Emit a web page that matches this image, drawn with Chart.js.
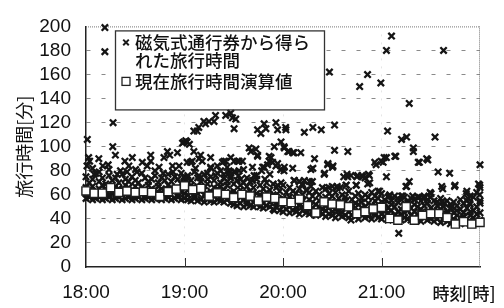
<!DOCTYPE html>
<html><head><meta charset="utf-8">
<script src="https://cdn.jsdelivr.net/npm/chart.js@4/dist/chart.umd.min.js"></script>
<style>html,body{margin:0;padding:0;background:#fff}#wrap{width:504px;height:308px;position:relative}</style>
</head><body><div id="wrap"><canvas id="c" width="504" height="308"></canvas></div>
<script>
// ---- text ----
const hourTickLabels = ['18:00', '19:00', '20:00', '21:00', ''];
const hourTickMinutes = [0, 60, 120, 180, 240];
const xAxisUnitLabel = '時刻[時]';
const yAxisTitle = '旅行時間[分]';
const legendTicketLines = ['磁気式通行券から得ら', 'れた旅行時間'];
const legendCalcLine = '現在旅行時間演算値';

// ---- 現在旅行時間演算値 (squares), minutes after 18:00 ----
const calcMinutes = [0,5,10,15,20,25,30,35,40,45,50,55,60,65,70,75,80,85,90,95,100,105,110,115,120,125,130,135,140,145,150,155,160,165,170,175,180,185,190,195,200,205,210,215,220,225,230,235,240];
const calcValues = [63.2,61.3,61.3,66,62,63,62,62.7,62,58.7,62.7,64.8,67.5,64.3,65.3,58.9,61.6,60.3,57.6,60.3,58.9,54.9,58.1,57.1,54.4,53.6,56.3,51,45,54.1,52.3,51.7,50.1,44.3,46.1,48.3,49.6,40.3,38.9,50.1,38.9,42.9,44.3,44.3,41.1,35.7,37.6,35.7,37.1];

// ---- 磁気式通行券 travel times (crosses): scattered points [minute, value] ----
const ticketSparse = [
[0.8,106],[11.5,199],[11.5,179],[16.5,120],[16.3,100],[17.9,93],[1.6,91],[7.8,90],[0.6,84],[2.2,88],[10.2,84],[13.5,85],[23.7,88],[28.2,91],[26.1,84],[34.3,87],[39.4,93],[39.4,88],[37.3,84],[30.2,81],[47.5,91],[49.6,96],[51,93],[55.7,95],[44.5,83],[52.7,84],[56.7,84],[21,80],[19,77],[8,79],[5,77],[31,79],[42,80],[47,78],[53,79],[4,82],[14,81],[25,79],
[58.8,103],[59.6,104],[60.8,105],[61.6,104],[63,102],[65.7,113],[67.8,113],[68.7,116],[71.8,121],[72.8,119],[74.9,121],[78,121],[78.9,126],[85.1,126],[88.2,128],[89.2,124],[91.2,123],[90.2,115],[65.7,96],[69.8,93],[63.7,87],[70.8,88],[75.9,83],[80,84],[83.1,87],[85.1,88],[88.2,91],[90.2,88],[93.2,88],[95.3,88],[87.1,80],[90.2,79],[93.2,80],[94.3,73],[99.4,99],[100.4,96],[103.5,98],[104.5,93],[101.4,83],[107.6,83],[110.6,85],[111.6,88],[113.7,87],[115.7,84],[118.8,81],[112.7,91],[104.5,114],[106.5,111],[108.5,119],[109.6,115],[114.7,100],[115.7,120],[116.7,114],[118.8,104],[120.8,99],[61.6,87],[64.7,88],[68.8,90],[75.9,91],[84.1,88],[92.3,88],[104.5,92],[111.6,92],[108.5,83],[116.7,86],[102.4,76],[101.4,72],[88.2,74],[87.1,78],[68.8,76],[69.8,74],[66.7,82],[59.6,75],[61.6,74],[74,78],[76,82],[79,76],[82,80],[84,77],[86,83],[91,79],[93,76],[96,81],[98,74],[104,76],[107,80],[109,73],[112,77],[114.7,47],
[121.8,114],[121.6,116],[122.9,96],[126,95],[133,112],[138.2,116],[143.3,114],[151.4,118],[148.3,162],[166.7,150],[171.5,160],[179.6,153],[120.6,100],[123.7,96],[126.7,95],[130.8,95],[139.2,90],[137,81],[147.2,85],[150.2,83],[145.1,77],[151.4,97],[159.5,96],[126.7,72],[129.8,71],[131.8,69],[137.9,71],[137,67],[118.6,81],[120.6,80],[159.4,75],[161.4,76],[158.4,68],[164.5,68],[165.5,76],[168.6,75],[172.6,76],[171.6,69],[176.7,85],[179.8,88],[178.8,63],[146.1,65],[148,66],[153,66],[155,66],[161.4,39],[120.8,83],[125.9,82],[138.2,82],[147.4,86],[150.4,84],[145.3,78],[126.9,72],[130,71],[132.1,68],[133,72],[136.1,71],[118.8,70],[116.7,68],[157,75],[159,77],[165,75],[168,76],[170,74],[172,77],[158.6,68],[164.7,68],[172.8,70],[177.9,63],[150,67],[153,67],[175.9,87],
[186.1,192],[183,180],[217.8,180],[196.9,136],[183.7,113],[192.2,106],[195.3,108],[199.4,99],[199.4,96],[212.6,108],[203.1,87],[208.2,89],[188.7,92],[181.6,91],[181,87],[183,91],[188.1,92],[202.4,87],[207.5,90],[183,75],[194.9,67],[196.9,71],[214.5,79],[221.5,78],[217.3,65],[224.5,67],[216.7,67],[231.6,61],[232.7,57],[233.7,53],[232,63],[234,59],[240,85],[239.8,68],[239.1,69],[239.8,60],[240,53],[184.7,59],[185,60],[192.9,59],[192.2,59],[199,59],[203,58],[206,59],[210.2,61],[209.6,62],[216.7,54],[222.8,50],[190.5,28],[195.3,67],[224.8,68]
];

// ---- dense band of crosses: [minute, v1, v2, v3, v4] ----
const ticketBand = [
[0,57,61,66,75],[2,58,60,64,70],[4,56,62,67,73],[6,57,59,63,78],[8,58,61,65,71],[10,56,60,68,74],[12,57,62,64,69],[14,58,60,66,76],[16,56,61,63,72],[18,57,59,67,74],
[20,58,62,65,70],[22,56,60,64,77],[24,57,61,68,73],[26,58,63,66,71],[28,56,59,62,75],[30,57,60,67,72],[32,58,62,64,70],[34,56,61,66,78],[36,57,60,63,74],[38,58,62,68,71],
[40,56,59,65,73],[42,57,61,64,76],[44,58,60,67,70],[46,56,62,65,74],[48,57,59,63,72],[50,58,61,68,77],[52,56,60,66,71],[54,57,63,65,75],[56,58,60,64,73],[58,56,62,69,78],
[60,57,61,66,74],[62,56,60,64,76],[64,55,62,68,72],[66,57,59,65,79],[68,55,61,67,74],[70,56,63,66,71],[72,54,60,64,77],[74,56,58,69,73],[76,55,61,63,75],[78,54,59,66,72],
[80,56,62,65,78],[82,55,58,67,70],[84,54,60,64,74],[86,56,61,68,71],[88,53,59,62,76],[90,52,57,63,69],[92,51,55,61,72],[94,53,58,64,68],[96,50,56,60,70],[98,52,55,62,67],
[100,51,57,63,71],[102,50,54,59,66],[104,52,56,61,73],[106,50,55,60,68],[108,49,53,58,65],[110,51,56,62,70],[112,50,54,57,64],[114,48,55,60,69],[116,50,53,58,66],[118,47,52,56,63],
[120,46,51,57,68],[122,48,53,55,62],[124,45,50,58,66],[126,47,52,56,63],[128,46,49,54,61],[130,44,51,57,65],[132,47,50,55,60],[134,45,48,53,64],[136,44,50,56,62],[138,46,49,54,59],
[140,43,47,52,63],[142,45,50,55,60],[144,44,48,53,66],[146,42,47,51,58],[148,44,49,56,61],[150,43,46,52,59],[152,41,48,54,62],[154,44,47,50,57],[156,42,45,53,60],[158,43,49,55,58],
[160,41,46,51,63],[162,43,48,50,56],[164,42,45,53,59],[166,40,47,52,61],[168,43,49,54,57],[170,41,46,50,60],[172,42,44,53,58],[174,40,48,51,62],[176,43,45,55,59],[178,41,47,52,57],
[180,40,44,50,61],[182,42,46,53,56],[184,39,45,49,58],[186,41,47,52,55],[188,40,43,50,59],[190,42,46,54,57],[192,39,44,48,56],[194,41,45,51,58],[196,40,47,53,55],[198,39,43,49,57],
[200,41,46,52,56],[202,40,44,50,58],[204,38,45,48,55],[206,41,43,51,57],[208,39,46,53,56],[210,40,44,49,58],[212,38,42,47,55],[214,40,45,51,54],[216,37,43,48,57],[218,39,41,50,53],
[220,38,44,46,55],[222,36,42,49,52],[224,38,40,45,54],[226,37,43,47,51],[228,36,41,48,56],[230,38,42,45,53],[232,37,40,49,55],[234,36,43,46,52],[236,38,41,47,58],[238,37,44,50,62],
[240,39,45,55,66]
];

// ---- build datasets from the arrays ----
const calcData = calcMinutes.map((m, i) => ({x: m, y: calcValues[i]}));
const crossData = ticketSparse.map(([m, v]) => ({x: m, y: v}));
ticketBand.forEach(row => { for (let k = 1; k < row.length; k++) crossData.push({x: row[0], y: row[k]}); });

const JP = '"Noto Sans CJK JP", "Noto Sans", sans-serif';
const NUM = '"Liberation Sans", Arial, sans-serif';
const INK = '#111';

const framePlugin = {
  id: 'frame',
  beforeDatasetsDraw(chart) {
    const {ctx, chartArea: a, scales: {x}} = chart;
    ctx.save();
    ctx.strokeStyle = '#777'; ctx.lineWidth = 1; ctx.setLineDash([1, 1]);
    ctx.beginPath();
    ctx.moveTo(a.left, a.top + 0.5); ctx.lineTo(a.right, a.top + 0.5);
    ctx.moveTo(a.right - 0.5, a.top); ctx.lineTo(a.right - 0.5, a.bottom);
    ctx.stroke();
    ctx.setLineDash([]); ctx.strokeStyle = '#333'; ctx.lineWidth = 1;
    hourTickMinutes.slice(1, 4).forEach(m => {
      const px = Math.round(x.getPixelForValue(m)) + 0.5;
      ctx.beginPath(); ctx.moveTo(px, a.bottom); ctx.lineTo(px, a.bottom - 9); ctx.stroke();
    });
    ctx.restore();
  },
  afterDatasetsDraw(chart) {
    const {ctx, chartArea: a} = chart;
    const bx = a.left + 29, by = a.top + 4, bw = 209, bh = 79;
    ctx.save();
    ctx.fillStyle = '#fff'; ctx.fillRect(bx, by, bw, bh);
    ctx.strokeStyle = '#333'; ctx.lineWidth = 1.3; ctx.strokeRect(bx + 0.5, by + 0.5, bw, bh);
    ctx.strokeStyle = '#1a1a1a'; ctx.lineWidth = 2;
    const cx = bx + 11, cy = by + 12, r = 2.8;
    ctx.beginPath(); ctx.moveTo(cx - r, cy - r); ctx.lineTo(cx + r, cy + r); ctx.moveTo(cx - r, cy + r); ctx.lineTo(cx + r, cy - r); ctx.stroke();
    ctx.lineWidth = 1.3; ctx.fillStyle = '#fff'; ctx.strokeStyle = '#222';
    ctx.fillRect(bx + 7, by + 47, 8, 8); ctx.strokeRect(bx + 7, by + 47, 8, 8);
    ctx.fillStyle = INK; ctx.font = '500 17.5px ' + JP; ctx.textBaseline = 'middle'; ctx.textAlign = 'left';
    ctx.fillText(legendTicketLines[0], bx + 20, by + 12);
    ctx.fillText(legendTicketLines[1], bx + 20, by + 30);
    ctx.fillText(legendCalcLine, bx + 20, by + 51);
    ctx.restore();
  },
  afterDraw(chart) {
    const {ctx} = chart;
    ctx.save();
    ctx.fillStyle = INK; ctx.font = '500 17px ' + JP; ctx.textAlign = 'center'; ctx.textBaseline = 'middle';
    ctx.fillText(xAxisUnitLabel, 464, 294);
    ctx.restore();
  }
};

new Chart(document.getElementById('c'), {
  type: 'scatter',
  data: {
    datasets: [
      {label: legendCalcLine, data: calcData, pointStyle: 'rect', pointRadius: 5.8, pointBackgroundColor: '#fff', pointBorderColor: '#1e1e1e', pointBorderWidth: 1.4, order: 0, clip: false},
      {label: legendTicketLines.join(''), data: crossData, pointStyle: 'crossRot', pointRadius: 4.5, pointBorderColor: '#151515', pointBorderWidth: 2.3, order: 1, clip: false}
    ]
  },
  options: {
    responsive: false, animation: false, devicePixelRatio: 1,
    layout: {padding: {top: 7, right: 24, left: 0, bottom: 0}},
    plugins: {legend: {display: false}, tooltip: {enabled: false}},
    scales: {
      x: {
        type: 'linear', min: 0, max: 240,
        afterFit(s) { s.height = 41; },
        afterBuildTicks(s) { s.ticks = hourTickMinutes.map(v => ({value: v})); },
        ticks: {callback: (v) => hourTickLabels[hourTickMinutes.indexOf(v)], font: {family: NUM, size: 19}, color: INK, padding: 14, maxRotation: 0, autoSkip: false},
        grid: {drawTicks: false, color: (c) => (c.tick && (c.tick.value === 0 || c.tick.value === 240)) ? 'rgba(0,0,0,0)' : 'rgba(0,0,0,0.1)'},
        border: {color: '#222', width: 1.5, dash: [2, 6]}
      },
      y: {
        min: 0, max: 200,
        afterFit(s) { s.width = 86; },
        ticks: {stepSize: 20, autoSkip: false, font: {family: NUM, size: 19}, color: INK, padding: 15},
        grid: {drawTicks: false, color: (c) => (c.tick && (c.tick.value === 0 || c.tick.value === 200)) ? 'rgba(0,0,0,0)' : '#8a8a8a'},
        border: {color: '#222', width: 1.5, dash: [4, 11]},
        title: {display: true, text: yAxisTitle, font: {family: JP, size: 18}, color: INK, padding: {top: 13, bottom: 0}}
      }
    }
  },
  plugins: [framePlugin]
});
</script></body></html>
